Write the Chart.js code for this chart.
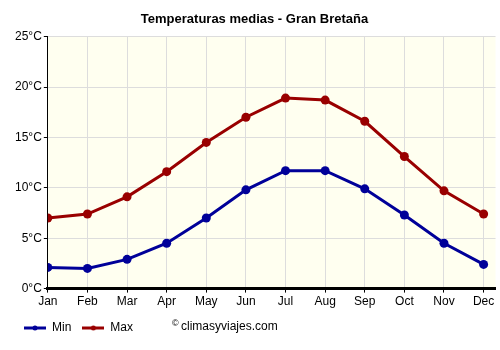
<!DOCTYPE html>
<html>
<head>
    <meta charset='UTF-8'>
    <title>Temperaturas medias - Gran Bretaña</title>
    <style>
        body { margin: 0; background: #fff; }
        #chart-container { width: 500px; height: 350px; }
    </style>
</head>
<body>
    <script src="https://cdn.jsdelivr.net/npm/chart.js@4.4.0/dist/chart.umd.min.js"></script>
    <div id="chart-container">
        <canvas id="chart" width="500" height="350"></canvas>
    </div>
    <script>
        // data
        let months = ["Jan", "Feb", "Mar", "Apr", "May", "Jun", "Jul", "Aug", "Sep", "Oct", "Nov", "Dec"];
        let minTemps = [2.1, 2.0, 2.9, 4.5, 7.0, 9.8, 11.7, 11.7, 9.9, 7.3, 4.5, 2.4];
        let maxTemps = [7.0, 7.4, 9.1, 11.6, 14.5, 17.0, 18.9, 18.7, 16.6, 13.1, 9.7, 7.4];
        let yTicks = [0, 5, 10, 15, 20, 25];

        const FONT = "'Liberation Sans', Arial, sans-serif";
        const MIN_COLOR = "#000099";
        const MAX_COLOR = "#990000";

        function toPoints(arr) {
            return arr.map(function (v, i) { return { x: i, y: v }; });
        }

        // legend marker: short line with a dot
        function legendMarker(color) {
            let c = document.createElement("canvas");
            c.width = 22;
            c.height = 8;
            let ctx = c.getContext("2d");
            ctx.strokeStyle = color;
            ctx.lineWidth = 3;
            ctx.beginPath();
            ctx.moveTo(0, 4);
            ctx.lineTo(22, 4);
            ctx.stroke();
            ctx.fillStyle = color;
            ctx.beginPath();
            ctx.arc(11, 4, 2.5, 0, Math.PI * 2);
            ctx.fill();
            return c;
        }

        const plotBackground = {
            id: "plotBackground",
            beforeDraw(chart) {
                let a = chart.chartArea;
                let ctx = chart.ctx;
                ctx.save();
                ctx.fillStyle = "#FFFFF0";
                ctx.fillRect(a.left, a.top, a.right - a.left, a.bottom - a.top);
                ctx.restore();
            }
        };

        const credit = {
            id: "credit",
            afterDraw(chart) {
                let ctx = chart.ctx;
                ctx.save();
                ctx.fillStyle = "#000";
                ctx.textBaseline = "middle";
                ctx.font = "9px " + FONT;
                ctx.fillText("©", 172, 324);
                ctx.font = "12px " + FONT;
                ctx.fillText("climasyviajes.com", 181, 327);
                ctx.restore();
            }
        };

        let context = document.getElementById("chart").getContext("2d");
        let chart = new Chart(context, {
            type: "line",
            data: {
                datasets: [{
                    label: "Min",
                    data: toPoints(minTemps),
                    borderColor: MIN_COLOR,
                    backgroundColor: MIN_COLOR,
                    borderWidth: 3,
                    pointRadius: 4.5,
                    pointBorderWidth: 0,
                    pointStyle: "circle",
                    fill: false
                }, {
                    label: "Max",
                    data: toPoints(maxTemps),
                    borderColor: MAX_COLOR,
                    backgroundColor: MAX_COLOR,
                    borderWidth: 3,
                    pointRadius: 4.5,
                    pointBorderWidth: 0,
                    pointStyle: "circle",
                    fill: false
                }]
            },
            options: {
                responsive: false,
                animation: false,
                layout: { padding: { left: 13, right: 4, top: 0, bottom: 6 } },
                plugins: {
                    title: {
                        display: true,
                        text: "Temperaturas medias - Gran Bretaña",
                        color: "#000",
                        font: { family: FONT, size: 13, weight: "bold" },
                        padding: { top: 12, bottom: 9 }
                    },
                    legend: {
                        position: "bottom",
                        align: "start",
                        labels: {
                            usePointStyle: true,
                            pointStyleWidth: 22,
                            color: "#000",
                            font: { family: FONT, size: 12 },
                            padding: 11,
                            generateLabels: function (ch) {
                                return ch.data.datasets.map(function (ds, i) {
                                    return {
                                        text: ds.label,
                                        pointStyle: legendMarker(ds.borderColor),
                                        fillStyle: ds.borderColor,
                                        strokeStyle: ds.borderColor,
                                        fontColor: "#000",
                                        lineWidth: 0,
                                        datasetIndex: i
                                    };
                                });
                            }
                        }
                    },
                    tooltip: { enabled: false }
                },
                scales: {
                    x: {
                        type: "linear",
                        min: 0,
                        max: 11.3,
                        afterBuildTicks: function (axis) {
                            axis.ticks = months.map(function (m, i) { return { value: i }; });
                        },
                        ticks: {
                            color: "#000",
                            font: { family: FONT, size: 12 },
                            maxRotation: 0,
                            autoSkip: false,
                            padding: 2,
                            callback: function (v) { return months[v]; }
                        },
                        grid: { color: "#dddddd", tickColor: "#000", tickLength: 4 },
                        border: { color: "#000", width: 3 }
                    },
                    y: {
                        min: 0,
                        max: 25,
                        afterBuildTicks: function (axis) {
                            axis.ticks = yTicks.map(function (v) { return { value: v }; });
                        },
                        ticks: {
                            color: "#000",
                            font: { family: FONT, size: 12 },
                            padding: 2,
                            callback: function (v) { return v + "°C"; }
                        },
                        grid: { color: "#dddddd", tickColor: "#000", tickLength: 4 },
                        border: { color: "#000", width: 1 }
                    }
                }
            },
            plugins: [plotBackground, credit]
        });
    </script>
</body>
</html>
